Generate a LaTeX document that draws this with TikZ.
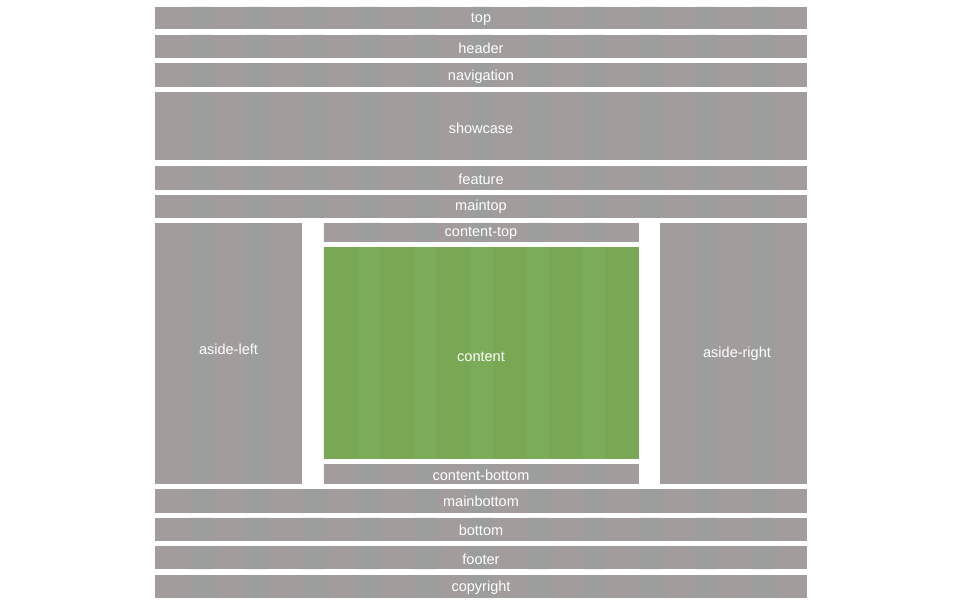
\documentclass[tikz,border=0pt]{standalone}
\usepackage{fontspec}
\setmainfont{Liberation Sans}
\definecolor{bandA}{HTML}{A29C9C}
\definecolor{bandB}{HTML}{9C9E9E}
\definecolor{greenA}{HTML}{79A854}
\definecolor{greenB}{HTML}{7BAC5A}
\tikzset{
  blk/.style={fill=bandA, inner sep=0pt, outer sep=0pt},
  grn/.style={blk, fill=greenA},
  lbl/.style={inner sep=0pt, text=white, font=\fontsize{14.5}{16}\selectfont}
}
\newcommand{\panel}[6][blk]{%
  \node[#1, minimum width=(#5-#3)*1pt, minimum height=(#6-#4)*1pt]
    (#2) at ({(#3+#5)/2},{(#4+#6)/2}) {};}
\newcommand{\bands}[1]{\foreach \k in {0,...,11}{\fill[#1] ({190+56.1*\k},0) rectangle ({212+56.1*\k},620);}}
\begin{document}
\begin{tikzpicture}[x=1pt,y=-1pt]
\fill[white] (0,0) rectangle (960,604);
\useasboundingbox (0,0) rectangle (960,604);
\panel{top}{155.3}{6.7}{806.7}{29.3}
\panel{header}{155.3}{34.7}{806.7}{58.3}
\panel{navigation}{155.3}{63.3}{806.7}{87.3}
\panel{showcase}{155.3}{92}{806.7}{160.3}
\panel{feature}{155.3}{166}{806.7}{189.5}
\panel{maintop}{155.3}{195}{806.7}{218}
\panel{asideleft}{155.3}{223}{301.7}{483.5}
\panel{asideright}{660}{223}{806.7}{483.5}
\panel{contenttop}{323.5}{222.5}{638.5}{241.8}
\panel[grn]{content}{323.5}{246.8}{638.5}{458.5}
\panel{contentbottom}{323.5}{464}{638.5}{483.5}
\panel{mainbottom}{155.3}{489}{806.7}{512.5}
\panel{bottom}{155.3}{517.5}{806.7}{540.8}
\panel{footer}{155.3}{546}{806.7}{569.4}
\panel{copyright}{155.3}{574.7}{806.7}{597.8}
\begin{scope}
  \clip \foreach \n in {top,header,navigation,showcase,feature,maintop,asideleft,asideright,contenttop,contentbottom,mainbottom,bottom,footer,copyright}{([shift={(0.3,0.3)}]\n.north west) rectangle ([shift={(-0.3,-0.3)}]\n.south east)};
  \bands{bandB}
\end{scope}
\begin{scope}
  \clip ([shift={(0.3,0.3)}]content.north west) rectangle ([shift={(-0.3,-0.3)}]content.south east);
  \bands{greenB}
\end{scope}
\node[lbl] (toplabel) at (481,19) {top};
\node[lbl] (headerlabel) at (481,48.5) {header};
\node[lbl] (navigationlabel) at (481,76.5) {navigation};
\node[lbl] (showcaselabel) at (481,128.5) {showcase};
\node[lbl] (featurelabel) at (481,179.5) {feature};
\node[lbl] (maintoplabel) at (481,207) {maintop};
\node[lbl] (asideleftlabel) at (228.5,349.5) {aside-left};
\node[lbl] (asiderightlabel) at (737,353.5) {aside-right};
\node[lbl] (contenttoplabel) at (481,233.5) {content-top};
\node[lbl] (contentlabel) at (481,356.5) {content};
\node[lbl] (contentbottomlabel) at (481,475.5) {content-bottom};
\node[lbl] (mainbottomlabel) at (481,501.5) {mainbottom};
\node[lbl] (bottomlabel) at (481,530.5) {bottom};
\node[lbl] (footerlabel) at (481,559.5) {footer};
\node[lbl] (copyrightlabel) at (481,587.5) {copyright};
\end{tikzpicture}
\end{document}
